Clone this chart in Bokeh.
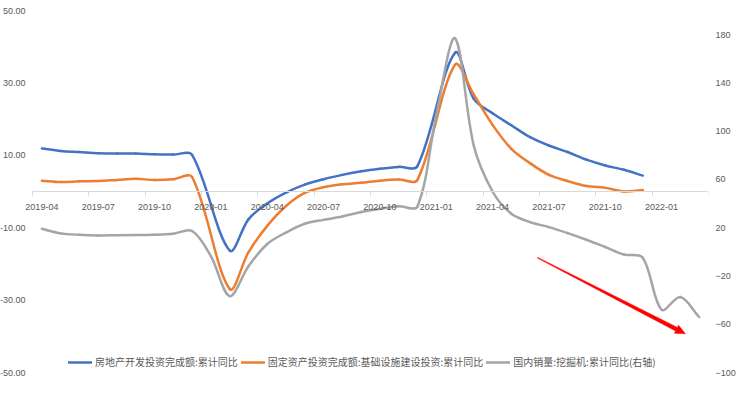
import math
from bokeh.plotting import figure
from bokeh.models import (Range1d, LinearAxis, FixedTicker, NumeralTickFormatter,
                          Legend, LegendItem, ColumnDataSource)
from bokeh.embed import file_html
from bokeh.resources import INLINE

# ---------------- data ----------------
months = ["2019-04", "2019-05", "2019-06", "2019-07", "2019-08", "2019-09",
          "2019-10", "2019-11", "2019-12", "2020-01", "2020-02", "2020-03",
          "2020-04", "2020-05", "2020-06", "2020-07", "2020-08", "2020-09",
          "2020-10", "2020-11", "2020-12", "2021-01", "2021-02", "2021-03",
          "2021-04", "2021-05", "2021-06", "2021-07", "2021-08", "2021-09",
          "2021-10", "2021-11", "2021-12", "2022-01", "2022-02", "2022-03"]
tick_labels = ["2019-04", "2019-07", "2019-10", "2020-01", "2020-04", "2020-07",
               "2020-10", "2021-01", "2021-04", "2021-07", "2021-10", "2022-01"]

# 房地产开发投资完成额:累计同比 (left axis, %)
real_estate = [11.9, 11.2, 10.9, 10.6, 10.5, 10.5, 10.3, 10.2, 10.1,
               None, -16.3, -7.7, -3.3, -0.3, 1.9, 3.4, 4.6, 5.6, 6.3, 6.8, 7.0,
               None, 38.3, 25.6, 21.6, 18.3, 15.0, 12.7, 10.9, 8.8, 7.2, 6.0, 4.4,
               None, None, None]
# 固定资产投资完成额:基础设施建设投资:累计同比 (left axis, %)
infrastructure = [3.0, 2.6, 2.8, 2.9, 3.2, 3.5, 3.2, 3.4, 4.0,
                  None, -26.9, -16.8, -9.5, -4.0, -0.4, 1.2, 2.0, 2.4, 3.0, 3.3, 3.2,
                  None, 35.0, 26.8, 18.4, 11.8, 7.8, 4.6, 2.9, 1.5, 1.0, 0.0, 0.4,
                  None, None, None]
# 国内销量:挖掘机:累计同比 (right axis, %)
excavator = [19.1, 15.3, 14.1, 13.6, 13.8, 14.0, 14.2, 15.0, 17.3,
             -3.5, -36.7, -12.0, 6.5, 16.0, 23.3, 26.5, 29.3, 33.0, 35.6, 37.8, 37.6,
             113.0, 177.0, 88.0, 50.0, 31.5, 24.6, 20.5, 15.5, 10.0, 4.0, -2.2, -4.9,
             -48.0, -37.5, -54.0]

left_ticks = [-50, -30, -10, 10, 30, 50]
right_ticks = [-100, -60, -20, 20, 60, 100, 140, 180]

series_names = ["房地产开发投资完成额:累计同比",
                "固定资产投资完成额:基础设施建设投资:累计同比",
                "国内销量:挖掘机:累计同比(右轴)"]
colors = ["#4472C4", "#ED7D31", "#A5A5A5"]

# annotation arrow (x in month index, y on left axis)
ARROW_START = (26.4, -18.3)
ARROW_END = (34.27, -39.3)

LABEL_FONT = "Liberation Sans"
TEXT_COLOR = "#595959"
AXIS_COLOR = "#D9D9D9"
PLOT_W = 676          # px of the category area
PLOT_H = 362          # px of the -50..50 span
PAD_LEFT = 32         # room for the left tick labels (inside the frame)
PAD_V = 10            # room above/below the value span
LEFT_SPAN = (-50, 50)
RIGHT_SPAN = (-100, 200)

n_months = len(months)
SX = PLOT_W / n_months
SY_LEFT = PLOT_H / (LEFT_SPAN[1] - LEFT_SPAN[0])
SY_RIGHT = PLOT_H / (RIGHT_SPAN[1] - RIGHT_SPAN[0])


def smooth_source(values, sx, sy):
    """Bezier segments through every data point (Excel-style smoothed line)."""
    pts = [(float(i), float(v)) for i, v in enumerate(values) if v is not None]
    n = len(pts)

    def dist(a, b):
        return math.hypot((a[0] - b[0]) * sx, (a[1] - b[1]) * sy)

    d = dict(x0=[], y0=[], x1=[], y1=[], cx0=[], cy0=[], cx1=[], cy1=[])
    t = 1.0 / 3.0
    for k in range(n - 1):
        p0 = pts[max(k - 1, 0)]
        p1 = pts[k]
        p2 = pts[k + 1]
        p3 = pts[min(k + 2, n - 1)]
        d01, d12, d23 = dist(p0, p1), dist(p1, p2), dist(p2, p3)
        f1 = d12 / (d01 + d12) if d01 + d12 > 0 else 0.0
        f2 = d12 / (d12 + d23) if d12 + d23 > 0 else 0.0
        d["x0"].append(p1[0]); d["y0"].append(p1[1])
        d["x1"].append(p2[0]); d["y1"].append(p2[1])
        d["cx0"].append(p1[0] + (p2[0] - p0[0]) * t * f1)
        d["cy0"].append(p1[1] + (p2[1] - p0[1]) * t * f1)
        d["cx1"].append(p2[0] - (p3[0] - p1[0]) * t * f2)
        d["cy1"].append(p2[1] - (p3[1] - p1[1]) * t * f2)
    return ColumnDataSource(d)


def tapered_arrow(start, end, sx, sy, w0=0.4, w1=2.0, head_len=10.0, head_w=4.5):
    """Outline of a tapering arrow (thin tail, wide end) in data units."""
    dx, dy = (end[0] - start[0]) * sx, (end[1] - start[1]) * sy
    L = math.hypot(dx, dy)
    ux, uy = dx / L, dy / L
    nx, ny = -uy, ux

    def pt(along, across):
        return (start[0] + (ux * along + nx * across) / sx,
                start[1] + (uy * along + ny * across) / sy)

    b = L - head_len
    pts = [pt(0, w0), pt(b, w1), pt(b, head_w), pt(L, 0),
           pt(b, -head_w), pt(b, -w1), pt(0, -w0)]
    return [q[0] for q in pts], [q[1] for q in pts]


x_start = -0.5 - PAD_LEFT / SX
ypad_l = PAD_V / SY_LEFT
ypad_r = PAD_V / SY_RIGHT
p = figure(frame_width=PLOT_W + PAD_LEFT, frame_height=PLOT_H + 2 * PAD_V,
           x_range=Range1d(x_start, n_months - 0.5),
           y_range=Range1d(LEFT_SPAN[0] - ypad_l, LEFT_SPAN[1] + ypad_l),
           output_backend="svg", toolbar_location=None,
           min_border_left=0, min_border_right=0, min_border_top=0, min_border_bottom=0,
           background_fill_color="white", border_fill_color="white")
p.outline_line_color = None
p.xgrid.visible = False
p.ygrid.visible = False
p.extra_y_ranges = {"right": Range1d(RIGHT_SPAN[0] - ypad_r, RIGHT_SPAN[1] + ypad_r)}

# x axis across the zero line
xa = p.xaxis[0]
major_pos = [months.index(tl) for tl in tick_labels]
xa.ticker = FixedTicker(ticks=major_pos,
                        minor_ticks=[m - 0.5 for m in major_pos] + [n_months - 0.5])
xa.major_label_overrides = {m: tl for m, tl in zip(major_pos, tick_labels)}
xa.fixed_location = 0
xa.bounds = (-0.5, n_months - 0.5)
xa.axis_line_color = AXIS_COLOR
xa.major_tick_line_color = None
xa.major_tick_out = 0
xa.major_tick_in = 0
xa.minor_tick_line_color = AXIS_COLOR
xa.minor_tick_out = 4
xa.minor_tick_in = 0
xa.major_label_standoff = 8
xa.major_label_text_font = LABEL_FONT
xa.major_label_text_font_size = "9px"
xa.major_label_text_color = TEXT_COLOR

# left value axis, pinned to the start of the category area
ya = p.yaxis[0]
ya.ticker = FixedTicker(ticks=left_ticks)
ya.formatter = NumeralTickFormatter(format="0.00")
ya.fixed_location = -0.5
ya.bounds = LEFT_SPAN
ya.axis_line_color = None
ya.major_tick_line_color = None
ya.minor_tick_line_color = None
ya.major_tick_out = 0
ya.major_label_standoff = 7
ya.major_label_text_font = LABEL_FONT
ya.major_label_text_font_size = "9px"
ya.major_label_text_color = TEXT_COLOR

ra = LinearAxis(y_range_name="right", ticker=FixedTicker(ticks=right_ticks))
ra.bounds = RIGHT_SPAN
ra.axis_line_color = None
ra.major_tick_line_color = None
ra.minor_tick_line_color = None
ra.major_tick_out = 0
ra.major_label_standoff = 7
ra.major_label_text_font = LABEL_FONT
ra.major_label_text_font_size = "9px"
ra.major_label_text_color = TEXT_COLOR
p.add_layout(ra, "right")

renderers = []
for vals, col, rng, sy in [(real_estate, colors[0], "default", SY_LEFT),
                           (infrastructure, colors[1], "default", SY_LEFT),
                           (excavator, colors[2], "right", SY_RIGHT)]:
    src = smooth_source(vals, SX, sy)
    r = p.bezier(x0="x0", y0="y0", x1="x1", y1="y1", cx0="cx0", cy0="cy0",
                 cx1="cx1", cy1="cy1", source=src, line_color=col, line_width=2.5,
                 line_cap="round", y_range_name=rng)
    renderers.append(r)

# red tapering trend arrow
ax_, ay_ = tapered_arrow(ARROW_START, ARROW_END, SX, SY_LEFT)
p.patch(ax_, ay_, fill_color="#FF0000", line_color="#FF0000", line_width=0.5)

legend = Legend(items=[LegendItem(label=nm, renderers=[r]) for nm, r in zip(series_names, renderers)],
                orientation="horizontal", location=(68, 13),
                background_fill_alpha=0, border_line_color=None,
                label_text_font="Noto Sans CJK SC", label_text_font_size="10px",
                label_text_color=TEXT_COLOR, glyph_width=24, glyph_height=10,
                label_standoff=3, spacing=3, padding=0, margin=0)
p.add_layout(legend)

open("out.html", "w").write(file_html(p, INLINE))
